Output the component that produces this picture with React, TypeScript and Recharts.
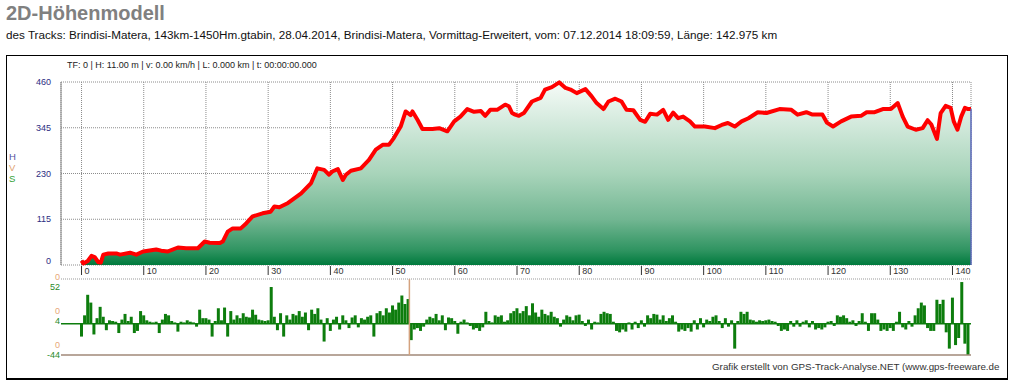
import {
  Area,
  AreaChart,
  Bar,
  BarChart,
  CartesianGrid,
  ReferenceLine,
  XAxis,
  YAxis,
} from "recharts";

// elevation profile (km, m)
const KM = [
  0, 0.3, 1.0, 1.6, 2.1, 2.7, 3.1, 3.5, 4.3, 5.6, 6.2, 7.8, 8.8, 9.9, 12.0, 12.8,
  13.9, 15.5, 16.8, 18.7, 19.8, 20.6, 22.2, 22.7, 23.5, 24.3, 25.6, 26.5, 27.5,
  29.1, 30.4, 31.0, 31.8, 33.2, 35.3, 36.9, 37.9, 39.0, 39.8, 40.3, 41.2, 42.0,
  42.5, 43.3, 44.9, 46.2, 47.3, 48.4, 49.4, 50.2, 51.3, 52.1, 52.9, 53.2, 54.0,
  54.8, 56.4, 57.5, 58.8, 59.9, 60.9, 62.0, 63.1, 64.2, 64.9, 65.7, 66.8, 68.1,
  68.7, 69.2, 69.7, 70.3, 71.1, 72.4, 73.8, 74.5, 75.6, 76.8, 77.8, 78.6, 79.6,
  81.0, 82.0, 82.8, 83.9, 84.7, 85.8, 86.8, 87.6, 88.7, 89.8, 90.6, 91.4, 92.5,
  93.5, 94.3, 95.1, 95.9, 96.7, 97.8, 98.6, 100.2, 101.8, 102.9, 103.9, 105.0,
  106.1, 107.2, 108.7, 110.1, 112.2, 114.1, 115.1, 116.5, 117.5, 119.1, 119.8,
  120.8, 122.1, 123.7, 125.3, 126.2, 127.5, 128.8, 130.1, 131.2, 132.0, 132.8,
  134.1, 135.2, 136.0, 136.6, 137.5, 138.1, 138.9, 139.7, 140.2, 140.8, 141.4,
  142.0, 142.5, 142.975,
];
const ELEV = [
  11, 4, 10, 23, 20, 7, 6, 26, 29, 29, 26, 31, 26, 34, 39, 36,
  34, 44, 42, 42, 59, 56, 55, 59, 84, 92, 92, 105, 122,
  130, 134, 147, 145, 156, 180, 206, 243, 239, 227, 235, 241, 214,
  227, 237, 243, 264, 290, 302, 302, 319, 348, 386, 377, 386, 365,
  342, 342, 344, 336, 361, 373, 392, 385, 387, 375, 390, 390, 403,
  399, 382, 378, 375, 382, 411, 420, 441, 447, 459, 445, 441, 432,
  442, 424, 407, 392, 411, 418, 411, 390, 389, 365, 360, 380, 378,
  390, 365, 383, 369, 373, 361, 348, 348, 344, 352, 357, 348,
  361, 369, 384, 382, 392, 390, 378, 384, 378, 378, 358,
  348, 361, 373, 375, 384, 384, 392, 392, 407, 373, 348,
  340, 344, 364, 353, 317, 382, 400, 395, 361, 340, 373,
  395, 392, 392,
];

// S values, one every half kilometre from km 0
const SLOPE_STEP = 0.5;
const SLOPE = [
  -18, 12, 41, 30, -15, 8, 24, 10, -9, 5,
  4, 3, -13, 6, 14, 4, 10, -13, -10, 18,
  12, 5, 3, 2, 3, -13, 6, 14, 12, 4,
  2, -11, 3, 2, 5, 3, 2, -4, 20, 8,
  8, 6, -18, 4, 22, 5, 23, -18, 18, 6,
  12, 8, 15, 10, 9, 20, 13, 6, 5, 4,
  5, 52, 10, -9, 15, -18, 12, 6, 14, 12,
  18, 10, 16, -9, 20, 14, 22, 6, -25, 8,
  -10, 6, 10, -8, 12, 5, -6, 9, 12, -5,
  8, 6, 10, 12, -18, 15, 18, 12, 22, 16,
  26, 20, 30, 40, 28, 35, -23, -8, -6, -10,
  -4, 6, 10, 8, 14, 5, 12, -9, 9, 8,
  4, -14, 3, 6, 2, -3, -8, -6, -10, -5,
  17, 4, 2, 12, 10, 12, 3, 5, 15, 18,
  22, 15, 18, 25, 12, 29, 16, 10, 20, 14,
  12, 17, 10, 8, -4, 6, 12, 10, 5, 12,
  13, 4, -3, 6, -8, 3, 2, 14, 17, 15,
  14, 3, -10, -12, -8, -11, 2, -8, 3, -6,
  5, -4, 12, 8, 14, 13, 6, 12, 4, 8,
  12, 3, -11, -8, -10, -6, -11, 5, -8, 8,
  -5, 6, 4, 10, 12, 4, -6, 8, -4, 5,
  -35, 4, 17, 14, 17, 6, 5, 3, 5, 4,
  5, 6, 4, 3, -3, -10, -8, -10, 4, -4,
  5, -4, 3, 5, -5, 4, -8, -6, -8, -5,
  3, 4, -3, 12, 10, 12, 8, 3, 5, -3,
  4, 15, 3, -10, 15, 15, 6, -10, -8, -10,
  -6, -10, 3, 17, -5, -8, 4, -4, 12, 22,
  30, 26, -6, -10, -10, 34, 28, 34, -12, -35,
  37, -30, -20, 59, -28, -44,
];

const KM_TICKS = [0, 10, 20, 30, 40, 50, 60, 70, 80, 90, 100, 110, 120, 130, 140];
const H_TICKS = [0, 115, 230, 345, 460];
const S_TICKS = [52, 4, -44];
const X_DOMAIN = [-3.3, 142.975];
const S_DOMAIN = [-44, 63.3];
const MARKER_KM = 52.7;

const TITLE = "2D-Höhenmodell";
const SUBTITLE =
  "des Tracks: Brindisi-Matera, 143km-1450Hm.gtabin, 28.04.2014, Brindisi-Matera, Vormittag-Erweitert, vom: 07.12.2014 18:09:59, Länge: 142.975 km";
const INFO = "TF: 0 | H: 11.00 m | v: 0.00 km/h | L: 0.000 km | t: 00:00:00.000";
const FOOTER = "Grafik erstellt von GPS-Track-Analyse.NET (www.gps-freeware.de";

const FONT = '"Liberation Sans", Arial, sans-serif';

const profile = KM.map((km, i) => ({ km, elev: ELEV[i] }));
const slope = SLOPE.map((s, i) => ({ km: i * SLOPE_STEP, s }));

function KmTick({ x, payload }: any) {
  return (
    <g>
      <line x1={x} x2={x} y1={266} y2={275} stroke="#333" />
      <text x={x + 3} y={274} fontSize={9} fill="#333" fontFamily={FONT}>
        {payload.value}
      </text>
    </g>
  );
}

function HTick({ y, payload }: any) {
  return (
    <text
      x={51}
      y={payload.value === 0 ? y - 4 : y}
      dy={3}
      textAnchor="end"
      fontSize={9}
      fill="#2d2d82"
      fontFamily={FONT}
    >
      {payload.value}
    </text>
  );
}

function STick({ y, payload }: any) {
  return (
    <g fontSize={9} fontFamily={FONT} textAnchor="end">
      <text x={60} y={y - 10} dy={3} fill="#e8a878">
        0
      </text>
      <text x={60} y={y} dy={3} fill="#2a8a2a">
        {payload.value}
      </text>
    </g>
  );
}

export default function App() {
  return (
    <div
      style={{
        position: "absolute",
        left: 0,
        top: 0,
        width: 1016,
        height: 386,
        overflow: "hidden",
        background: "#fff",
        fontFamily: FONT,
      }}
    >
      <div style={{ position: "absolute", left: 6, top: 2, fontSize: 20, fontWeight: "bold", color: "#808080" }}>
        {TITLE}
      </div>
      <div style={{ position: "absolute", left: 6, top: 28, fontSize: 11.7, color: "#111", whiteSpace: "nowrap" }}>
        {SUBTITLE}
      </div>

      <div
        style={{
          position: "absolute",
          left: 6,
          top: 55,
          width: 1000,
          height: 322,
          borderStyle: "solid",
          borderColor: "#000",
          borderWidth: "1px 1px 2px 1px",
        }}
      />

      <div style={{ position: "absolute", left: 67, top: 60, fontSize: 9, color: "#222", whiteSpace: "nowrap" }}>
        {INFO}
      </div>
      <div style={{ position: "absolute", left: 9, top: 151, fontSize: 9.5, lineHeight: "11px" }}>
        <div style={{ color: "#5050a0" }}>H</div>
        <div style={{ color: "#e0a070" }}>V</div>
        <div style={{ color: "#30a030" }}>S</div>
      </div>

      <div style={{ position: "absolute", left: 0, top: 0 }}>
        <AreaChart width={1016} height={280} data={profile} margin={{ top: 82, right: 45, bottom: 0, left: 20 }}>
          <defs>
            <linearGradient id="elevFill" x1="0" y1="0" x2="0" y2="1">
              <stop offset="0%" stopColor="#f6fbf8" />
              <stop offset="50%" stopColor="#a8d4ba" />
              <stop offset="75%" stopColor="#72b692" />
              <stop offset="92%" stopColor="#2f9461" />
              <stop offset="100%" stopColor="#007a3d" />
            </linearGradient>
          </defs>
          <CartesianGrid strokeDasharray="1 1" stroke="#8c8c8c" />
          <XAxis
            dataKey="km"
            type="number"
            domain={X_DOMAIN}
            ticks={KM_TICKS}
            interval={0}
            height={15}
            axisLine={false}
            tickLine={false}
            tick={<KmTick />}
          />
          <YAxis
            domain={[0, 460]}
            ticks={H_TICKS}
            interval={0}
            width={41}
            axisLine={{ stroke: "#888" }}
            tickLine={false}
            tick={<HTick />}
          />
          <Area
            type="linear"
            dataKey="elev"
            stroke="#ff0000"
            strokeWidth={4}
            strokeLinejoin="round"
            fill="url(#elevFill)"
            fillOpacity={1}
            baseValue={0}
            dot={false}
            activeDot={false}
            isAnimationActive={false}
          />
          <ReferenceLine
            segment={[
              { x: X_DOMAIN[1], y: 0 },
              { x: X_DOMAIN[1], y: ELEV[ELEV.length - 1] },
            ]}
            stroke="#5866b8"
            strokeWidth={1.5}
          />
        </AreaChart>
      </div>

      <div style={{ position: "absolute", left: 0, top: 0 }}>
        <BarChart width={1016} height={360} data={slope} margin={{ top: 279, right: 45, bottom: 5, left: 20 }}>
          <XAxis dataKey="km" type="number" domain={X_DOMAIN} hide />
          <YAxis
            yAxisId="s"
            domain={S_DOMAIN}
            ticks={S_TICKS}
            interval={0}
            allowDataOverflow
            width={41}
            axisLine={false}
            tickLine={false}
            tick={<STick />}
          />
          <YAxis yAxisId="v" domain={[-1, 1]} hide />
          <ReferenceLine yAxisId="s" y={S_DOMAIN[1]} stroke="#999" strokeDasharray="1 1" />
          <ReferenceLine yAxisId="v" y={0} stroke="#888" strokeDasharray="1 1" />
          <Bar yAxisId="s" dataKey="s" fill="#0d7d0d" barSize={3} isAnimationActive={false} />
          <ReferenceLine yAxisId="s" y={0} stroke="#0d7d0d" strokeWidth={1.5} />
          <ReferenceLine yAxisId="s" y={S_DOMAIN[0]} stroke="#a08878" strokeWidth={1.5} />
          <ReferenceLine yAxisId="s" x={MARKER_KM} stroke="#d4a27e" strokeWidth={1.5} />
        </BarChart>
      </div>

      <div
        style={{
          position: "absolute",
          left: 712,
          top: 361,
          width: 288,
          overflow: "hidden",
          fontSize: 9.8,
          color: "#333",
          whiteSpace: "nowrap",
        }}
      >
        {FOOTER}
      </div>
    </div>
  );
}
